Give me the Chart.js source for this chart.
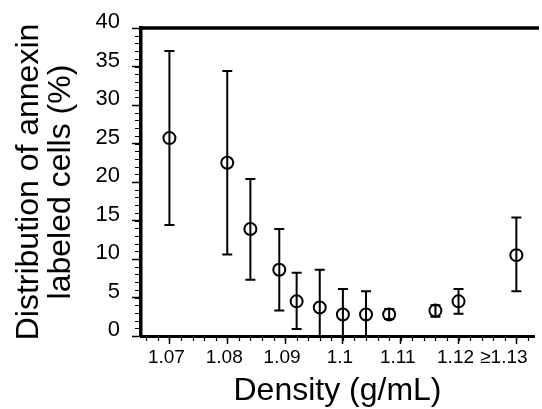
<!DOCTYPE html>
<html>
<head>
<meta charset="utf-8">
<script src="https://cdn.jsdelivr.net/npm/chart.js@4"></script>
<style>
  html, body { margin: 0; padding: 0; background: #fff; overflow: hidden; }
  canvas { display: block; }
</style>
</head>
<body>
<canvas id="c" width="542" height="409"></canvas>
<script>
// ---- data ----
const densities = [1.07, 1.08, 1.084, 1.089, 1.092, 1.096, 1.1, 1.104, 1.108, 1.116, 1.12, 1.13];
const means     = [25.7, 22.5, 13.9, 8.6, 4.5, 3.7, 2.8, 2.8, 2.8, 3.3, 4.5, 10.5];
const upper     = [37.0, 34.4, 20.4, 13.9, 8.2, 8.6, 6.1, 5.8, 3.5, 4.0, 6.1, 15.4];
const lower     = [14.4, 10.6, 7.3, 3.3, 0.9, 0, 0, 0, 2.2, 2.5, 2.9, 5.8];

const xTickValues = [1.07, 1.08, 1.09, 1.10, 1.11, 1.12, 1.13];
const xTickLabels = ['1.07', '1.08', '1.09', '1.1', '1.11', '1.12', '\u22651.13\u2002\u2002'];
const yTickValues = [0, 5, 10, 15, 20, 25, 30, 35, 40];
const xMinorStep = 0.002;
const yMinorStep = 1;

const xTitle = 'Density (g/mL)';
const yTitle = ['Distribution of annexin', 'labeled cells (%)'];

const points = densities.map((d, i) => ({ x: d, y: means[i] }));

const FONT = "'Liberation Sans', Arial, Helvetica, sans-serif";

const overlay = {
  id: 'overlay',
  beforeDatasetsDraw(chart) {
    const { ctx, scales: { x, y } } = chart;
    ctx.save();
    ctx.strokeStyle = '#000';
    ctx.lineWidth = 2;
    ctx.lineCap = 'butt';
    densities.forEach((d, i) => {
      const px = x.getPixelForValue(d);
      const pu = y.getPixelForValue(upper[i]);
      const pl = y.getPixelForValue(lower[i]);
      ctx.beginPath();
      ctx.moveTo(px, pu); ctx.lineTo(px, pl);
      ctx.moveTo(px - 5, pu); ctx.lineTo(px + 5, pu);
      ctx.moveTo(px - 5, pl); ctx.lineTo(px + 5, pl);
      ctx.stroke();
    });
    ctx.restore();
  },
  afterDraw(chart) {
    const { ctx, scales: { x, y }, chartArea: a } = chart;
    ctx.save();
    ctx.strokeStyle = '#000';
    // top frame line
    ctx.lineWidth = 3.5;
    ctx.beginPath();
    ctx.moveTo(a.left - 1.5, a.top);
    ctx.lineTo(a.right + 5, a.top);
    ctx.stroke();
    // minor ticks
    ctx.lineWidth = 1.2;
    ctx.beginPath();
    for (let v = y.min; v <= y.max + 1e-9; v += yMinorStep) {
      const py = Math.round(y.getPixelForValue(v)) + 0.5;
      ctx.moveTo(a.left - 6, py); ctx.lineTo(a.left, py);
    }
    const start = Math.ceil(x.min / xMinorStep) * xMinorStep;
    for (let v = start; v <= x.max + 1e-9; v += xMinorStep) {
      const px = Math.round(x.getPixelForValue(v)) + 0.5;
      ctx.moveTo(px, a.bottom); ctx.lineTo(px, a.bottom + 5);
    }
    ctx.stroke();
    ctx.restore();
  }
};

new Chart(document.getElementById('c'), {
  type: 'scatter',
  data: {
    datasets: [{
      data: points,
      showLine: false,
      pointStyle: 'circle',
      pointRadius: 6,
      pointHoverRadius: 6,
      pointBorderWidth: 2,
      pointBorderColor: '#000',
      pointBackgroundColor: 'rgba(0,0,0,0)'
    }]
  },
  options: {
    responsive: false,
    devicePixelRatio: 1,
    animation: false,
    events: [],
    layout: { padding: { top: 28, right: 0, left: 0, bottom: 0 } },
    plugins: { legend: { display: false }, tooltip: { enabled: false } },
    scales: {
      x: {
        type: 'linear',
        position: 'bottom',
        min: 1.065085,
        max: 1.133051,
        afterBuildTicks: s => { s.ticks = xTickValues.map(v => ({ value: v })); },
        afterFit: s => { s.height = 73; s.paddingLeft = 0; s.paddingRight = 0; },
        ticks: {
          autoSkip: false,
          maxRotation: 0,
          minRotation: 0,
          color: '#000',
          font: { family: FONT, size: 19 },
          padding: 2,
          labelOffset: -3,
          callback: (v) => {
            const i = xTickValues.findIndex(t => Math.abs(t - v) < 1e-6);
            return i >= 0 ? xTickLabels[i] : '';
          }
        },
        grid: { drawOnChartArea: false, drawTicks: true, tickLength: 8, tickWidth: 1.5, tickColor: '#000' },
        border: { display: true, color: '#000', width: 3 },
        title: {
          display: true,
          text: xTitle,
          color: '#000',
          font: { family: FONT, size: 32, lineHeight: 1.0 },
          padding: { top: 0, bottom: 2 }
        }
      },
      y: {
        type: 'linear',
        position: 'left',
        min: 0,
        max: 40,
        afterBuildTicks: s => { s.ticks = yTickValues.map(v => ({ value: v })); },
        afterFit: s => { s.width = 141; s.paddingTop = 0; s.paddingBottom = 0; },
        ticks: {
          color: '#000',
          font: { family: FONT, size: 22 },
          padding: 12,
          labelOffset: -6
        },
        grid: { drawOnChartArea: false, drawTicks: true, tickLength: 9, tickWidth: 1.5, tickColor: '#000' },
        border: { display: true, color: '#000', width: 3.5 },
        title: {
          display: true,
          text: yTitle,
          color: '#000',
          font: { family: FONT, size: 32, lineHeight: 1.0 },
          padding: { top: 13, bottom: 0 }
        }
      }
    }
  },
  plugins: [overlay]
});
</script>
</body>
</html>
